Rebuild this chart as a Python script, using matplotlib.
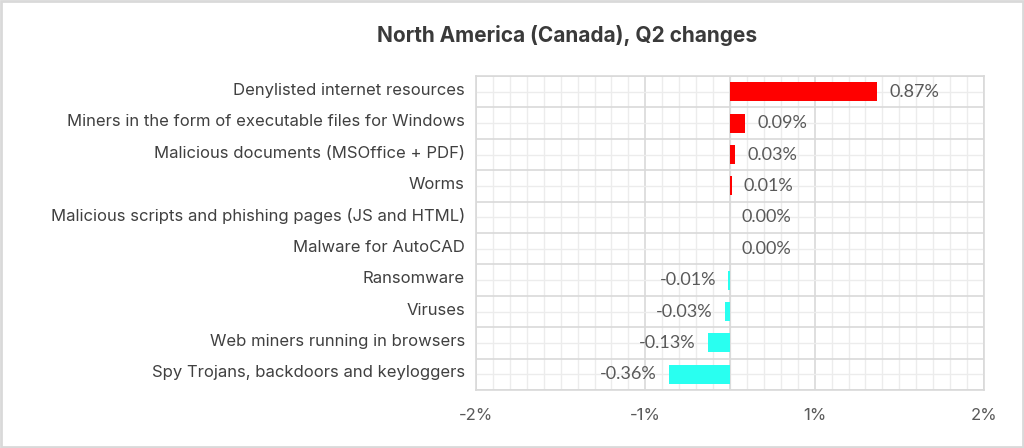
import matplotlib
matplotlib.use("Agg")
import matplotlib.pyplot as plt
import matplotlib.transforms as mtransforms
from matplotlib.patches import Rectangle
import numpy as np

categories = [
    "Denylisted internet resources",
    "Miners in the form of executable files for Windows",
    "Malicious documents (MSOffice + PDF)",
    "Worms",
    "Malicious scripts and phishing pages (JS and HTML)",
    "Malware for AutoCAD",
    "Ransomware",
    "Viruses",
    "Web miners running in browsers",
    "Spy Trojans, backdoors and keyloggers",
]
values = [0.87, 0.09, 0.03, 0.01, 0.00, 0.00, -0.01, -0.03, -0.13, -0.36]
xtick_pos = [-1.5, -0.5, 0.5, 1.5]
xtick_labels = ["-2%", "-1%", "1%", "2%"]
title = "North America (Canada), Q2 changes"

RED = "#FF0000"
CYAN = "#29FFF0"
MAJ = "#D9D9D9"
MIN = "#ECECEC"

fig = plt.figure(figsize=(10.24, 4.48), dpi=100)
ax = fig.add_axes([476/1024, 1-390/448, (984-476)/1024, (390-76)/448])

y = np.arange(len(categories))
colors = [RED if v > 0 else CYAN for v in values]
ax.barh(y, values, height=0.6, color=colors, zorder=3)

ax.set_xlim(-1.5, 1.5)
ax.set_ylim(len(categories) - 0.5, -0.5)

ax.set_xticks(xtick_pos)
ax.set_xticklabels(xtick_labels, fontfamily="Inter", fontsize=12, color="#595959")
ax.set_xticks(np.arange(-1.5, 1.51, 0.1), minor=True)
ax.set_yticks(y)
ax.set_yticklabels(categories, fontfamily="Inter", fontsize=12, color="#404040")
ax.set_yticks(np.arange(-0.5, len(categories), 1.0), minor=True)

ax.tick_params(axis="both", which="both", length=0)
ax.tick_params(axis="x", pad=13)
ax.tick_params(axis="y", pad=8)

offset = mtransforms.ScaledTranslation(0, 3/100, fig.dpi_scale_trans)
for lbl in ax.get_yticklabels():
    lbl.set_transform(lbl.get_transform() + offset)

ax.xaxis.grid(True, which="minor", color=MIN, linewidth=1, zorder=0)
ax.xaxis.grid(True, which="major", color=MAJ, linewidth=1.2, zorder=1)
ax.yaxis.grid(True, which="major", color=MIN, linewidth=1, zorder=0)
ax.yaxis.grid(True, which="minor", color=MAJ, linewidth=1.2, zorder=1)
ax.set_axisbelow(True)
ax.axvline(0, color=MAJ, linewidth=1.2, zorder=2)

for s in ax.spines.values():
    s.set_color(MAJ)
    s.set_linewidth(1.2)

for yi, v in zip(y, values):
    if v >= 0:
        ax.annotate(f"{v:.2f}%", (v, yi), xytext=(12, 0), textcoords="offset pixels",
                    ha="left", va="center", fontfamily="Lato", fontsize=13, color="#595959")
    else:
        ax.annotate(f"{v:.2f}%", (v, yi), xytext=(-12, 0), textcoords="offset pixels",
                    ha="right", va="center", fontfamily="Lato", fontsize=13, color="#595959")

fig.text(567/1024, 1-36/448, title, ha="center", va="center", fontfamily="Inter",
         fontweight="bold", fontsize=15, color="#3A3A3A")

fig.patches.append(Rectangle((0.001, 0.002), 0.998, 0.996, transform=fig.transFigure,
                             fill=False, edgecolor=MAJ, linewidth=2))

fig.savefig("out.png", dpi=100, facecolor="white")
